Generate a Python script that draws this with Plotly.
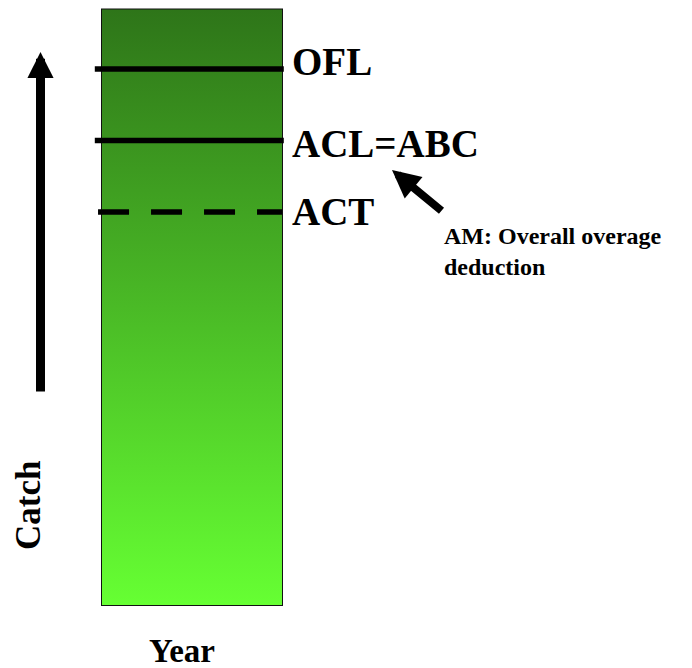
import plotly.graph_objects as go

# ---- data ----
categories = ["Year"]
catch_total = [100]
level_names = ["OFL", "ACL=ABC", "ACT"]
level_values = [90, 78, 66]
level_dash = ["solid", "solid", "31px,22px"]
level_label_shift = [8, -3, 0]
note_lines = ["AM: Overall overage", "deduction"]
y_title = "Catch"

# page body has an 8px margin; figure is sized to fill the rest of the window
OFF = 8
W, H = 692 - OFF, 668 - OFF
FONT = "Liberation Serif"


def px(xr):
    return (xr - OFF) / W


def py(yr):
    return 1 - (yr - OFF) / H


fig = go.Figure()

# gradient-filled bar body
top = catch_total[0]
fig.add_trace(go.Scatter(
    x=[-0.5, 0.5, 0.5, -0.5, -0.5], y=[0, 0, top, top, 0],
    mode="lines", fill="toself", line=dict(width=0),
    fillgradient=dict(type="vertical", start=0, stop=top,
                      colorscale=[[0, "#66ff33"], [1, "#2e7519"]]),
    hoverinfo="skip", showlegend=False))

# bar outline
fig.add_trace(go.Bar(x=[0], y=catch_total, width=1, base=0,
                     marker=dict(color="rgba(0,0,0,0)", line=dict(color="#111", width=2)),
                     showlegend=False, hoverinfo="skip"))

# reference levels
for name, v, d, sh in zip(level_names, level_values, level_dash, level_label_shift):
    xs = [-0.54, 0.51] if d == "solid" else [-0.522, 0.5]
    fig.add_trace(go.Scatter(x=xs, y=[v, v], mode="lines",
                             line=dict(color="black", width=5.5, dash=d),
                             showlegend=False, hoverinfo="skip"))
    fig.add_annotation(x=0.5, y=v, xref="x", yref="y", text=name, showarrow=False,
                       xanchor="left", yanchor="middle", xshift=8, yshift=sh,
                       font=dict(family=FONT, size=39, color="black", weight="bold"))

# big catch arrow
fig.add_annotation(x=px(40.5), y=py(52), xref="paper", yref="paper",
                   ax=0, ay=341, text="", showarrow=True,
                   arrowhead=2, arrowwidth=9, arrowsize=0.58, arrowcolor="black")

# AM arrow
fig.add_annotation(x=px(392), y=py(170), xref="paper", yref="paper",
                   ax=51, ay=42, text="", showarrow=True,
                   arrowhead=2, arrowwidth=8, arrowsize=0.7, arrowcolor="black")

fig.add_annotation(x=px(442), y=py(251), xref="paper", yref="paper",
                   text="<br>".join(note_lines), showarrow=False,
                   xanchor="left", yanchor="middle", align="left",
                   font=dict(family=FONT, size=24, color="black", weight="bold"))

fig.add_annotation(x=px(28), y=py(506), xref="paper", yref="paper",
                   text=y_title, showarrow=False, textangle=-90,
                   xanchor="center", yanchor="middle",
                   font=dict(family=FONT, size=35, color="black", weight="bold"))
fig.add_annotation(x=px(182), y=py(651), xref="paper", yref="paper",
                   text=categories[0], showarrow=False,
                   xanchor="center", yanchor="middle",
                   font=dict(family=FONT, size=33, color="black", weight="bold"))

x0 = -0.5 - (102 - OFF) / 180.0
y0 = -(668 - 605) / 5.955
fig.update_layout(
    width=W, height=H, margin=dict(l=0, r=0, t=0, b=0),
    paper_bgcolor="white", plot_bgcolor="white",
    xaxis=dict(range=[x0, x0 + W / 180.0], visible=False, fixedrange=True),
    yaxis=dict(range=[y0, y0 + H / 5.955], visible=False, fixedrange=True),
    showlegend=False,
)

fig.write_html("out.html")
